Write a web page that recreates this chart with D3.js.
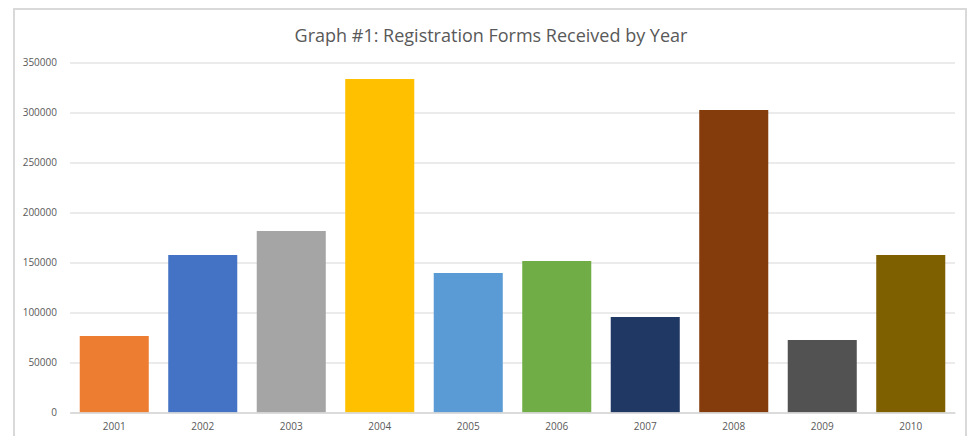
<!DOCTYPE html>
<html>
<head>
<meta charset="utf-8">
<script src="https://cdn.jsdelivr.net/npm/d3@7"></script>
<style>
  body { margin: 0; background: #fff; }
  text { font-family: "Open Sans", "Liberation Sans", sans-serif; fill: #595959; }
</style>
</head>
<body>
<div id="chart"></div>
<script>
const years = ["2001", "2002", "2003", "2004", "2005", "2006", "2007", "2008", "2009", "2010"];
const forms = [76500, 157500, 181500, 333500, 139500, 151500, 95500, 302500, 72500, 157500];
const barColors = ["#ED7D31", "#4472C4", "#A5A5A5", "#FFC000", "#5B9BD5", "#70AD47", "#203864", "#843C0C", "#525252", "#7F6000"];
const yTicks = [0, 50000, 100000, 150000, 200000, 250000, 300000, 350000];

const W = 969, H = 436;
const margin = { top: 62.5, right: 14, bottom: 23.5, left: 70 };
const width = W - margin.left - margin.right;
const height = H - margin.top - margin.bottom;

const root = d3.select("#chart").append("svg")
    .attr("width", W)
    .attr("height", H);

// chart frame
root.append("rect")
    .attr("x", 14).attr("y", 9)
    .attr("width", 952).attr("height", 440)
    .attr("fill", "#fff")
    .attr("stroke", "#d9d9d9")
    .attr("stroke-width", 2);

root.append("text")
    .attr("x", 491)
    .attr("y", 42)
    .attr("text-anchor", "middle")
    .style("font-size", "18px")
    .text("Graph #1: Registration Forms Received by Year");

const svg = root.append("g")
    .attr("transform", `translate(${margin.left},${margin.top})`);

const x = d3.scaleBand()
    .domain(years)
    .range([0, width])
    .paddingInner(0.22)
    .paddingOuter(0.11);

const y = d3.scaleLinear()
    .domain([0, 350000])
    .range([height, 0]);

// gridlines + y labels
const yAxis = svg.append("g")
    .call(d3.axisLeft(y).tickValues(yTicks).tickFormat(d3.format("d")).tickSize(-width).tickPadding(13));
yAxis.select(".domain").remove();
yAxis.selectAll(".tick line")
    .attr("stroke", d => d === 0 ? "#d9d9d9" : "#e4e4e4")
    .attr("stroke-width", 1.3);
yAxis.selectAll(".tick text")
    .style("font-size", "10px")
    .attr("fill", "#595959");

// bars
svg.selectAll(".bar")
    .data(years)
    .enter()
    .append("rect")
    .attr("class", "bar")
    .attr("x", d => x(d))
    .attr("y", (d, i) => y(forms[i]))
    .attr("width", x.bandwidth())
    .attr("height", (d, i) => height - y(forms[i]))
    .attr("fill", (d, i) => barColors[i]);

// x axis
const xAxis = svg.append("g")
    .attr("transform", `translate(0,${height})`)
    .call(d3.axisBottom(x).tickSize(0).tickPadding(10));
xAxis.select(".domain")
    .attr("stroke", "#d9d9d9")
    .attr("stroke-width", 1.3);
xAxis.selectAll(".tick text")
    .style("font-size", "10px")
    .attr("fill", "#595959");
</script>
</body>
</html>
